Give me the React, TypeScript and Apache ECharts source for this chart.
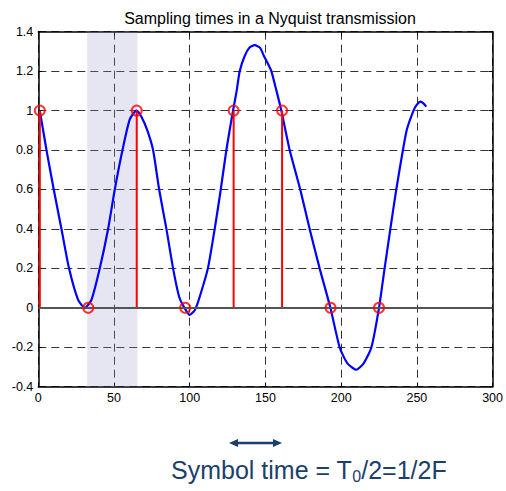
import React, { useEffect, useRef } from "react";
import * as echarts from "echarts";

const titleText = "Sampling times in a Nyquist transmission";
const captionMain = "Symbol time = T";
const captionSub = "0";
const captionTail = "/2=1/2F";

const xRange = [0, 300, 50];
const yRange = [-0.4, 1.4, 0.2];
const shadeRange = [32.3, 65.5];

const sampleX = [1, 33, 65, 97, 129, 161, 193, 225];
const sampleY = [1, 0, 1, 0, 1, 1, 0, 0];

const curveX = [
  1, 5.4, 10.2, 15.3, 20.3, 26.3, 30.7, 35.1, 40.6, 46.1, 50.5, 55.6, 60.4, 64.8,
  68, 72, 75.8, 79.8, 84.6, 89, 93, 96.5, 100, 103.5, 106.6, 112, 116.5, 120.5,
  124.2, 128.6, 131, 133, 136.3, 139.5, 142.9, 146.5, 149, 151.5, 153.9, 157.3,
  160.5, 166, 173, 179.2, 185.8, 192.9, 199, 204, 210, 215, 220, 225, 228.7,
  232.5, 236.4, 240.8, 243.4, 247.8, 250, 252.5, 254.5, 256.2,
];
const curveY = [
  1.0, 0.8, 0.6, 0.4, 0.2, 0.04, 0.0, 0.04, 0.2, 0.4, 0.6, 0.8, 0.955, 1.0,
  0.97, 0.9, 0.8, 0.6, 0.4, 0.2, 0.056, 0.0, -0.036, -0.01, 0.056, 0.2, 0.4, 0.6,
  0.8, 1.0, 1.1, 1.2, 1.277, 1.32, 1.332, 1.318, 1.277, 1.24, 1.2, 1.1,
  1.0, 0.8, 0.6, 0.4, 0.2, 0.0, -0.2, -0.28, -0.314, -0.28, -0.2, 0.0, 0.2,
  0.4, 0.6, 0.8, 0.904, 1.0, 1.03, 1.045, 1.035, 1.02,
];

const FONT = "Liberation Sans, Arial, sans-serif";
const NAVY = "#1b3f6d";

export default function App() {
  const ref = useRef<HTMLDivElement>(null);
  useEffect(() => {
    if (!ref.current) return;
    const chart = echarts.init(ref.current, undefined, { renderer: "svg" });
    const dash = { type: [8, 5] as any, color: "#333", width: 1 };
    const axisCommon = {
      type: "value" as const,
      axisLine: { show: true, onZero: false, lineStyle: { color: "#000", width: 1.5 } },
      axisTick: { show: true, inside: true, length: 4, lineStyle: { color: "#000" } },
    };
    chart.setOption({
      animation: false,
      backgroundColor: "#fff",
      title: {
        text: titleText,
        left: 265,
        textAlign: "center",
        top: 5,
        textStyle: { fontFamily: FONT, fontSize: 16, fontWeight: "normal", color: "#000" },
      },
      grid: { left: 38.3, right: 12.7, top: 31.7, bottom: 104.3 },
      xAxis: [
        {
          ...axisCommon,
          position: "bottom",
          min: xRange[0],
          max: xRange[1],
          interval: xRange[2],
          axisLabel: { color: "#000", fontFamily: FONT, fontSize: 12.5, margin: 5 },
          splitLine: { show: true, lineStyle: dash },
        },
        {
          ...axisCommon,
          position: "top",
          min: xRange[0],
          max: xRange[1],
          interval: xRange[2],
          axisLabel: { show: false },
          splitLine: { show: false },
        },
      ],
      yAxis: [
        {
          ...axisCommon,
          position: "left",
          min: yRange[0],
          max: yRange[1],
          interval: yRange[2],
          axisLabel: {
            color: "#000",
            fontFamily: FONT,
            fontSize: 12.5,
            margin: 5,
            formatter: (v: number) => String(Math.round(v * 10) / 10),
          },
          splitLine: { show: true, lineStyle: dash },
        },
        {
          ...axisCommon,
          position: "right",
          min: yRange[0],
          max: yRange[1],
          interval: yRange[2],
          axisLabel: { show: false },
          splitLine: { show: false },
        },
      ],
      series: [
        {
          type: "line",
          data: curveX.map((x, i) => [x, curveY[i]]),
          smooth: 0.2,
          showSymbol: false,
          lineStyle: { color: "#0000ff", width: 2.2 },
          z: 3,
          markArea: {
            silent: true,
            itemStyle: { color: "rgba(150,150,205,0.24)" },
            data: [[{ xAxis: shadeRange[0] }, { xAxis: shadeRange[1] }]],
          },
          markLine: {
            silent: true,
            symbol: "none",
            label: { show: false },
            lineStyle: { type: "solid", color: "#555", width: 2 },
            data: [{ yAxis: 0 }],
          },
        },
        {
          type: "bar",
          data: sampleX.map((x, i) => [x, sampleY[i]]),
          barWidth: 2,
          itemStyle: { color: "#ff0000" },
          z: 4,
        },
        {
          type: "scatter",
          data: sampleX.map((x, i) => [x, sampleY[i]]),
          symbol: "circle",
          symbolSize: 10,
          itemStyle: { color: "rgba(0,0,0,0)", borderColor: "#ff0000", borderWidth: 2 },
          z: 5,
        },
      ],
      graphic: [
        {
          type: "line",
          shape: { x1: 234, y1: 443, x2: 277, y2: 443 },
          style: { stroke: NAVY, lineWidth: 2.5 },
        },
        {
          type: "polygon",
          shape: { points: [[229, 443], [238, 439], [238, 447]] },
          style: { fill: NAVY },
        },
        {
          type: "polygon",
          shape: { points: [[282, 443], [273, 439], [273, 447]] },
          style: { fill: NAVY },
        },
        {
          type: "text",
          left: 171,
          top: 457,
          style: {
            text: `{a|${captionMain}}{s|${captionSub}}{a|${captionTail}}`,
            rich: {
              a: { fontFamily: FONT, fontSize: 25, fill: NAVY, color: NAVY },
              s: { fontFamily: FONT, fontSize: 16, fill: NAVY, color: NAVY, padding: [14, 0, 0, 0] },
            },
          },
        },
      ],
    });
    return () => chart.dispose();
  }, []);
  return (
    <div
      ref={ref}
      style={{ position: "fixed", left: 0, top: 0, width: 506, height: 491, background: "#fff" }}
    />
  );
}
